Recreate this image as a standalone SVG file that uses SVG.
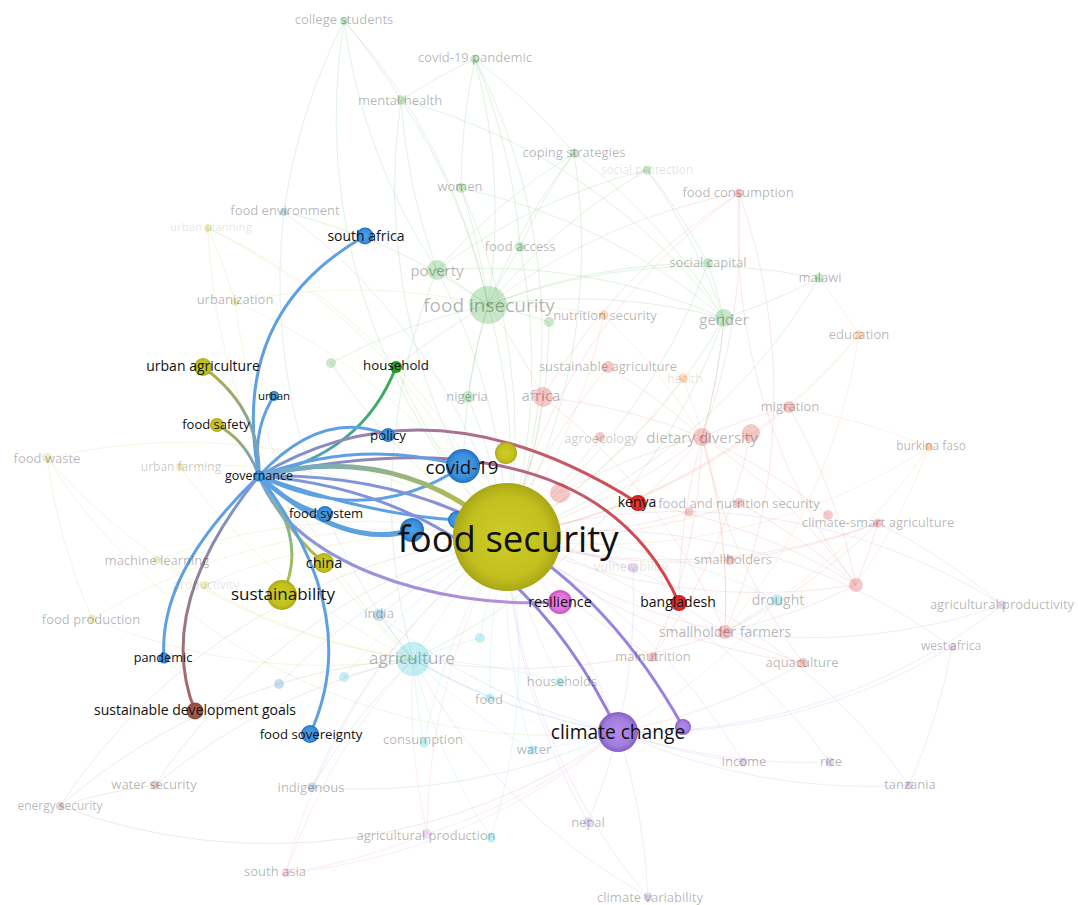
<svg xmlns="http://www.w3.org/2000/svg" width="1078" height="905" viewBox="0 0 1078 905">
<style>
.bl{fill:none;stroke-width:1;stroke-opacity:.2}
.lg{stroke:#6cc06c}.lr{stroke:#ec8a8a}.lo{stroke:#f5b870}.ly{stroke:#cccc60}.lb{stroke:#80b0e0}.lc{stroke:#80d8e4}.lbr{stroke:#c09080}.lp{stroke:#eea0d0}.lpu{stroke:#b8a0e4}
.hl{fill:none;stroke-width:3;stroke-linecap:round}
.hb{stroke:#5ea0e2}
.cg{fill:#2ca02c;fill-opacity:.25}.cr{fill:#d62728;fill-opacity:.25}.co{fill:#ff7f0e;fill-opacity:.3}.cy{fill:#bcbd22;fill-opacity:.25}.cb{fill:#1f77b4;fill-opacity:.25}.cc{fill:#17becf;fill-opacity:.25}.cbr{fill:#8c564b;fill-opacity:.25}.cp{fill:#e377c2;fill-opacity:.25}.cpu{fill:#9467bd;fill-opacity:.25}
.ft{font-family:"Open Sans","Liberation Sans",sans-serif;fill:#000;fill-opacity:.3;text-anchor:middle}
.vf{fill-opacity:.13}
.mf{fill-opacity:.22}
.ht{font-family:"Open Sans","Liberation Sans",sans-serif;fill:#111;text-anchor:middle}
</style>
<defs>
<radialGradient id="ny"><stop offset="0" stop-color="#cdcc28"/><stop offset=".75" stop-color="#c2c01e"/><stop offset="1" stop-color="#a9a616"/></radialGradient>
<radialGradient id="nb"><stop offset="0" stop-color="#4ba2ee"/><stop offset=".7" stop-color="#3a8fdc"/><stop offset="1" stop-color="#2570bf"/></radialGradient>
<radialGradient id="nr"><stop offset="0" stop-color="#ee3a32"/><stop offset=".7" stop-color="#de2a26"/><stop offset="1" stop-color="#b81c1c"/></radialGradient>
<radialGradient id="ng"><stop offset="0" stop-color="#3fb83f"/><stop offset="1" stop-color="#218a21"/></radialGradient>
<radialGradient id="npu"><stop offset="0" stop-color="#b48ced"/><stop offset=".7" stop-color="#a17ddc"/><stop offset="1" stop-color="#8660c4"/></radialGradient>
<radialGradient id="npk"><stop offset="0" stop-color="#ee88e6"/><stop offset=".7" stop-color="#e070d8"/><stop offset="1" stop-color="#c452c0"/></radialGradient>
<radialGradient id="nbr"><stop offset="0" stop-color="#b86a5a"/><stop offset="1" stop-color="#8a4a3e"/></radialGradient>
<linearGradient id="gUA" gradientUnits="userSpaceOnUse" x1="259" y1="476" x2="203" y2="367"><stop offset="0" stop-color="#6a9fd8"/><stop offset="1" stop-color="#b0b040"/></linearGradient>
<linearGradient id="gFSa" gradientUnits="userSpaceOnUse" x1="259" y1="476" x2="217" y2="425"><stop offset="0" stop-color="#6a9fd8"/><stop offset="1" stop-color="#b0b040"/></linearGradient>
<linearGradient id="gHH" gradientUnits="userSpaceOnUse" x1="259" y1="476" x2="396" y2="367"><stop offset="0" stop-color="#5ea0e2"/><stop offset="1" stop-color="#3aac48"/></linearGradient>
<linearGradient id="gKE" gradientUnits="userSpaceOnUse" x1="259" y1="476" x2="638" y2="503"><stop offset="0" stop-color="#7a9ad8"/><stop offset="1" stop-color="#d84848"/></linearGradient>
<linearGradient id="gBD" gradientUnits="userSpaceOnUse" x1="259" y1="476" x2="679" y2="603"><stop offset="0" stop-color="#7a9ad8"/><stop offset="1" stop-color="#dc4040"/></linearGradient>
<linearGradient id="gFS" gradientUnits="userSpaceOnUse" x1="259" y1="476" x2="507" y2="537"><stop offset="0" stop-color="#6aa6dc"/><stop offset="1" stop-color="#c0c030"/></linearGradient>
<linearGradient id="gCH" gradientUnits="userSpaceOnUse" x1="259" y1="476" x2="324" y2="563"><stop offset="0" stop-color="#6aa6dc"/><stop offset="1" stop-color="#b8bc3a"/></linearGradient>
<linearGradient id="gSU" gradientUnits="userSpaceOnUse" x1="259" y1="476" x2="282" y2="595"><stop offset="0" stop-color="#6aa6dc"/><stop offset="1" stop-color="#b0c040"/></linearGradient>
<linearGradient id="gSDG" gradientUnits="userSpaceOnUse" x1="259" y1="476" x2="195" y2="711"><stop offset="0" stop-color="#7a9ad8"/><stop offset="1" stop-color="#a8645a"/></linearGradient>
<linearGradient id="gRE" gradientUnits="userSpaceOnUse" x1="259" y1="476" x2="560" y2="602"><stop offset="0" stop-color="#7a9ad8"/><stop offset="1" stop-color="#c488dc"/></linearGradient>
<linearGradient id="gCC" gradientUnits="userSpaceOnUse" x1="259" y1="476" x2="618" y2="732"><stop offset="0" stop-color="#7a9ad8"/><stop offset="1" stop-color="#9a7cdc"/></linearGradient>
<linearGradient id="gPU" gradientUnits="userSpaceOnUse" x1="259" y1="476" x2="683" y2="727"><stop offset="0" stop-color="#7a9ad8"/><stop offset="1" stop-color="#a07ee0"/></linearGradient>
</defs>
<rect width="1078" height="905" fill="#fff"/>

<g id="connectors">
<g id="background-links" class="bl">
<g class="lg">
<path d="M344 21A600 600 0 0 1 488 305"/><path d="M344 21A600 600 0 0 1 401 100"/><path d="M344 21A600 600 0 0 0 437 270"/><path d="M344 21A600 600 0 0 0 507 537"/><path d="M344 21A600 600 0 0 0 284 212"/>
<path d="M475 59A600 600 0 0 1 488 305"/><path d="M475 59A600 600 0 0 0 401 100"/><path d="M475 59A600 600 0 0 0 461 188"/><path d="M475 59A600 600 0 0 1 574 153"/><path d="M475 59A600 600 0 0 1 520 247"/><path d="M475 59A600 600 0 0 1 507 537"/>
<path d="M401 100A600 600 0 0 1 488 305"/><path d="M401 100A600 600 0 0 0 437 270"/><path d="M401 100A600 600 0 0 0 463 466"/><path d="M401 100A600 600 0 0 1 724 318"/>
<path d="M574 153A600 600 0 0 0 488 305"/><path d="M574 153A600 600 0 0 0 520 247"/><path d="M574 153A600 600 0 0 1 724 318"/><path d="M574 153A600 600 0 0 0 437 270"/><path d="M574 153A600 600 0 0 1 507 537"/>
<path d="M647 170A600 600 0 0 0 488 305"/><path d="M647 170A600 600 0 0 1 724 318"/><path d="M647 170A600 600 0 0 1 708 263"/><path d="M647 170A600 600 0 0 0 437 270"/>
<path d="M461 188A600 600 0 0 1 488 305"/><path d="M461 188A600 600 0 0 1 724 318"/><path d="M461 188A600 600 0 0 1 507 537"/>
<path d="M520 247A600 600 0 0 0 488 305"/><path d="M520 247A600 600 0 0 1 507 537"/><path d="M437 270A600 600 0 0 1 488 305"/><path d="M437 270A600 600 0 0 1 507 537"/><path d="M437 270A600 600 0 0 1 724 318"/>
<path d="M488 305A600 600 0 0 1 507 537"/><path d="M488 305A600 600 0 0 1 724 318"/><path d="M488 305A600 600 0 0 1 819 278"/><path d="M488 305A600 600 0 0 1 708 263"/><path d="M488 305A600 600 0 0 0 468 397"/><path d="M488 305A600 600 0 0 0 331 363"/><path d="M488 305A600 600 0 0 0 396 367"/><path d="M488 305A600 600 0 0 1 549 322"/><path d="M488 305A600 600 0 0 0 463 466"/><path d="M488 305A600 600 0 0 0 284 212"/>
<path d="M708 263A600 600 0 0 1 724 318"/><path d="M708 263A600 600 0 0 1 507 537"/><path d="M819 278A600 600 0 0 1 724 318"/><path d="M819 278A600 600 0 0 1 507 537"/><path d="M724 318A600 600 0 0 1 507 537"/><path d="M724 318A600 600 0 0 1 702 437"/>
<path d="M468 397A600 600 0 0 1 507 537"/><path d="M331 363A600 600 0 0 0 507 537"/><path d="M549 322A600 600 0 0 1 507 537"/><path d="M396 367A600 600 0 0 0 507 537"/><path d="M724 318A600 600 0 0 1 413 659"/><path d="M437 270A600 600 0 0 0 413 659"/>
</g>
<g class="lr">
<path d="M739 193A600 600 0 0 0 488 305"/><path d="M739 193A600 600 0 0 1 702 437"/><path d="M739 193A600 600 0 0 1 725 632"/><path d="M739 193A600 600 0 0 0 507 537"/><path d="M739 193A600 600 0 0 0 543 397"/>
<path d="M608 367A600 600 0 0 0 507 537"/><path d="M608 367A600 600 0 0 1 702 437"/><path d="M543 397A600 600 0 0 1 507 537"/><path d="M543 397A600 600 0 0 1 702 437"/><path d="M543 397A600 600 0 0 1 725 632"/>
<path d="M789 407A600 600 0 0 1 507 537"/><path d="M789 407A600 600 0 0 0 702 437"/><path d="M789 407A600 600 0 0 1 856 585"/><path d="M600 437A600 600 0 0 1 507 537"/><path d="M702 437A600 600 0 0 1 507 537"/><path d="M702 437A600 600 0 0 1 725 632"/><path d="M702 437A600 600 0 0 1 856 585"/>
<path d="M751 433A600 600 0 0 1 507 537"/><path d="M751 433A600 600 0 0 1 653 657"/><path d="M560 493A600 600 0 0 1 702 437"/><path d="M739 503A600 600 0 0 1 507 537"/><path d="M739 503A600 600 0 0 1 856 585"/><path d="M689 512A600 600 0 0 1 507 537"/>
<path d="M878 523A600 600 0 0 1 507 537"/><path d="M878 523A600 600 0 0 1 725 632"/><path d="M828 515A600 600 0 0 0 702 437"/><path d="M730 560A600 600 0 0 1 507 537"/><path d="M730 560A600 600 0 0 0 878 523"/>
<path d="M856 585A600 600 0 0 1 507 537"/><path d="M856 585A600 600 0 0 1 725 632"/><path d="M856 585A600 600 0 0 1 739 193"/><path d="M856 585A600 600 0 0 0 878 523"/>
<path d="M725 632A600 600 0 0 1 507 537"/><path d="M725 632A600 600 0 0 0 803 663"/><path d="M653 657A600 600 0 0 1 507 537"/><path d="M653 657A600 600 0 0 0 702 437"/><path d="M803 663A600 600 0 0 1 507 537"/><path d="M803 663A600 600 0 0 1 702 437"/>
<path d="M638 503A600 600 0 0 0 702 437"/><path d="M679 603A600 600 0 0 0 725 632"/><path d="M679 603A600 600 0 0 1 702 437"/><path d="M638 503A600 600 0 0 1 856 585"/><path d="M543 397A600 600 0 0 0 488 305"/><path d="M702 437A600 600 0 0 0 724 318"/><path d="M803 663A600 600 0 0 1 618 732"/><path d="M725 632A600 600 0 0 1 413 659"/>
</g>
<g class="lo">
<path d="M604 315A600 600 0 0 1 507 537"/><path d="M604 315A600 600 0 0 0 488 305"/><path d="M604 315A600 600 0 0 1 702 437"/><path d="M683 378A600 600 0 0 1 507 537"/><path d="M683 378A600 600 0 0 1 725 632"/>
<path d="M859 335A600 600 0 0 1 507 537"/><path d="M859 335A600 600 0 0 0 819 278"/><path d="M859 335A600 600 0 0 1 789 407"/><path d="M859 335A600 600 0 0 1 725 632"/>
<path d="M929 447A600 600 0 0 1 507 537"/><path d="M929 447A600 600 0 0 0 789 407"/><path d="M929 447A600 600 0 0 1 856 585"/><path d="M929 447A600 600 0 0 1 725 632"/>
</g>
<g class="ly">
<path d="M208 228A600 600 0 0 1 507 537"/><path d="M208 228A600 600 0 0 1 235 302"/><path d="M208 228A600 600 0 0 0 413 659"/><path d="M235 302A600 600 0 0 1 507 537"/><path d="M235 302A600 600 0 0 1 488 305"/><path d="M235 302A600 600 0 0 0 413 659"/>
<path d="M47 458A600 600 0 0 1 507 537"/><path d="M47 458A600 600 0 0 0 92 619"/><path d="M47 458A600 600 0 0 0 413 659"/><path d="M180 467A600 600 0 0 1 507 537"/><path d="M180 467A600 600 0 0 0 413 659"/>
<path d="M157 560A600 600 0 0 1 507 537"/><path d="M157 560A600 600 0 0 0 413 659"/><path d="M205 585A600 600 0 0 1 507 537"/><path d="M92 619A600 600 0 0 1 507 537"/><path d="M92 619A600 600 0 0 0 413 659"/><path d="M47 458A600 600 0 0 0 618 732"/><path d="M208 228A600 600 0 0 1 463 466"/>
</g>
<g class="lb">
<path d="M284 212A600 600 0 0 1 507 537"/><path d="M284 212A600 600 0 0 0 413 659"/><path d="M379 615A600 600 0 0 1 507 537"/><path d="M379 615A600 600 0 0 0 413 659"/><path d="M379 615A600 600 0 0 0 618 732"/>
<path d="M279 684A600 600 0 0 1 507 537"/><path d="M312 787A600 600 0 0 1 507 537"/><path d="M312 787A600 600 0 0 1 413 659"/><path d="M312 787A600 600 0 0 0 618 732"/>
</g>
<g class="lc">
<path d="M413 659A600 600 0 0 1 507 537"/><path d="M413 659A600 600 0 0 0 618 732"/><path d="M344 677A600 600 0 0 1 413 659"/><path d="M344 677A600 600 0 0 1 507 537"/><path d="M480 638A600 600 0 0 1 507 537"/><path d="M480 638A600 600 0 0 0 413 659"/>
<path d="M560 682A600 600 0 0 1 507 537"/><path d="M560 682A600 600 0 0 0 413 659"/><path d="M490 698A600 600 0 0 1 507 537"/><path d="M490 698A600 600 0 0 1 413 659"/><path d="M424 743A600 600 0 0 1 507 537"/><path d="M424 743A600 600 0 0 1 413 659"/>
<path d="M532 750A600 600 0 0 1 507 537"/><path d="M532 750A600 600 0 0 0 618 732"/><path d="M532 750A600 600 0 0 1 413 659"/><path d="M777 600A600 600 0 0 0 507 537"/><path d="M777 600A600 600 0 0 1 618 732"/><path d="M777 600A600 600 0 0 0 725 632"/>
<path d="M491 838A600 600 0 0 1 413 659"/><path d="M491 838A600 600 0 0 0 507 537"/>
</g>
<g class="lbr">
<path d="M155 785A600 600 0 0 1 507 537"/><path d="M155 785A600 600 0 0 1 413 659"/><path d="M60 806A600 600 0 0 1 507 537"/><path d="M60 806A600 600 0 0 1 155 785"/><path d="M60 806A600 600 0 0 1 413 659"/><path d="M60 806A600 600 0 0 0 618 732"/>
</g>
<g class="lp">
<path d="M427 834A600 600 0 0 1 507 537"/><path d="M427 834A600 600 0 0 1 413 659"/><path d="M427 834A600 600 0 0 0 618 732"/><path d="M286 873A600 600 0 0 1 507 537"/><path d="M286 873A600 600 0 0 1 413 659"/><path d="M286 873A600 600 0 0 0 427 834"/><path d="M286 873A600 600 0 0 0 618 732"/>
</g>
<g class="lpu">
<path d="M633 568A600 600 0 0 0 507 537"/><path d="M633 568A600 600 0 0 1 618 732"/><path d="M1002 605A600 600 0 0 0 507 537"/><path d="M1002 605A600 600 0 0 1 618 732"/><path d="M1002 605A600 600 0 0 1 725 632"/>
<path d="M952 647A600 600 0 0 0 507 537"/><path d="M952 647A600 600 0 0 1 618 732"/><path d="M743 762A600 600 0 0 1 618 732"/><path d="M743 762A600 600 0 0 0 507 537"/><path d="M830 762A600 600 0 0 1 618 732"/><path d="M830 762A600 600 0 0 0 507 537"/>
<path d="M909 785A600 600 0 0 1 618 732"/><path d="M909 785A600 600 0 0 0 507 537"/><path d="M909 785A600 600 0 0 0 952 647"/><path d="M588 822A600 600 0 0 0 618 732"/><path d="M588 822A600 600 0 0 1 507 537"/>
<path d="M648 897A600 600 0 0 0 618 732"/><path d="M648 897A600 600 0 0 1 507 537"/><path d="M648 897A600 600 0 0 1 413 659"/><path d="M618 732A600 600 0 0 0 507 537"/><path d="M618 732A600 600 0 0 1 413 659"/><path d="M1002 605A600 600 0 0 0 878 523"/>
</g>
</g>
<g id="governance-links" class="hl">
<path class="hb" d="M259 476Q228 314 365 236"/>
<path class="hb" d="M259 476Q252 430 274 396"/>
<path stroke="url(#gUA)" d="M259 476Q261 409 203 367"/>
<path stroke="url(#gFSa)" d="M259 476Q246 440 217 425"/>
<path stroke="url(#gHH)" d="M259 476Q362 455 396 367"/>
<path class="hb" d="M259 476Q322 408 388 435"/>
<path stroke="url(#gKE)" d="M259 476Q431 372 638 503"/>
<path stroke="url(#gBD)" d="M259 476C380 450 600 425 679 603"/>
<path class="hb" d="M259 476Q360 438 463 466"/>
<path class="hb" d="M259 476Q369 529 463 466"/>
<path class="hb" d="M259 476Q370 515 457 520"/>
<path class="hb" d="M259 476Q290 505 325 514"/>
<path stroke="url(#gPU)" d="M259 476Q540 470 683 727"/>
<path stroke="url(#gCC)" d="M259 476Q505 495 618 732"/>
<path stroke="url(#gRE)" d="M259 476C290 560 430 610 560 602"/>
<path stroke="url(#gCH)" d="M259 476Q285 530 324 563"/>
<path stroke="url(#gSU)" d="M259 476Q310 540 282 595"/>
<path class="hb" d="M259 476Q158 572 164 658"/>
<path stroke="url(#gSDG)" d="M259 476Q153 606 195 711"/>
<path class="hb" d="M259 476Q365 614 310 734"/>
<path stroke="url(#gFS)" stroke-width="5" d="M259 476Q400 440 507 537"/>
<path class="hb" stroke-width="5" d="M259 476Q344 551 412 530"/>
</g>
</g>

<g id="faint-nodes" font-size="13">
<g id="n-college-students"><circle class="cg" cx="344" cy="21" r="4"/><text class="ft" x="344" y="24">college students</text></g>
<g id="n-covid-19-pandemic"><circle class="cg" cx="475" cy="59" r="4.5"/><text class="ft" x="475" y="62">covid-19 pandemic</text></g>
<g id="n-mental-health"><circle class="cg" cx="401" cy="100" r="4.5"/><text class="ft" x="400" y="105">mental health</text></g>
<g id="n-coping-strategies"><circle class="cg" cx="574" cy="153" r="4.5"/><text class="ft" x="574" y="157">coping strategies</text></g>
<g id="n-social-protection"><circle class="cg" cx="647" cy="170" r="4.5"/><text class="ft vf" x="647" y="174" font-size="12">social protection</text></g>
<g id="n-women"><circle class="cg" cx="461" cy="188" r="5"/><text class="ft" x="460" y="191">women</text></g>
<g id="n-food-environment"><circle class="cb" cx="284" cy="212" r="4"/><text class="ft" x="285" y="215">food environment</text></g>
<g id="n-urban-planning"><circle class="cy" cx="208" cy="228" r="4"/><text class="ft vf" x="211" y="231" font-size="11.5">urban planning</text></g>
<g id="n-food-access"><circle class="cg" cx="520" cy="247" r="5"/><text class="ft" x="520" y="251">food access</text></g>
<g id="n-poverty"><circle class="cg" cx="437" cy="270" r="10"/><text class="ft" x="437" y="276" font-size="15">poverty</text></g>
<g id="n-food-insecurity"><circle class="cg" cx="488" cy="305" r="19"/><text class="ft" x="489" y="312" font-size="19">food insecurity</text></g>
<g id="n-urbanization"><circle class="cy" cx="235" cy="302" r="4"/><text class="ft" x="235" y="304">urbanization</text></g>
<g id="n-social-capital"><circle class="cg" cx="708" cy="263" r="5"/><text class="ft" x="708" y="267">social capital</text></g>
<g id="n-malawi"><circle class="cg" cx="819" cy="278" r="4.5"/><text class="ft" x="820" y="282">malawi</text></g>
<g id="n-gender"><circle class="cg" cx="724" cy="318" r="9"/><text class="ft" x="724" y="325" font-size="15">gender</text></g>
<g id="n-green-a"><circle class="cg" cx="549" cy="322" r="5"/></g>
<g id="n-green-b"><circle class="cg" cx="331" cy="363" r="5"/></g>
<g id="n-nutrition-security"><circle class="co" cx="604" cy="315" r="4.5"/><text class="ft" x="605" y="320">nutrition security</text></g>
<g id="n-food-consumption"><circle class="cr" cx="739" cy="193" r="4.5"/><text class="ft" x="738" y="197">food consumption</text></g>
<g id="n-education"><circle class="co" cx="859" cy="335" r="4.5"/><text class="ft" x="859" y="339">education</text></g>
<g id="n-sustainable-agriculture"><circle class="cr" cx="608" cy="367" r="6"/><text class="ft" x="608" y="371">sustainable agriculture</text></g>
<g id="n-health"><circle class="co" cx="683" cy="378" r="4.5"/><text class="ft vf" x="685" y="383" font-size="12">health</text></g>
<g id="n-nigeria"><circle class="cg" cx="468" cy="397" r="6"/><text class="ft" x="467" y="401">nigeria</text></g>
<g id="n-africa"><circle class="cr" cx="543" cy="397" r="10"/><text class="ft" x="541" y="401" font-size="15">africa</text></g>
<g id="n-migration"><circle class="cr" cx="789" cy="407" r="6"/><text class="ft" x="790" y="411">migration</text></g>
<g id="n-agroecology"><circle class="cr" cx="600" cy="437" r="5"/><text class="ft mf" x="601" y="443">agroecology</text></g>
<g id="n-dietary-diversity"><circle class="cr" cx="702" cy="437" r="9"/><circle class="cr" cx="751" cy="433" r="9"/><text class="ft" x="702" y="443" font-size="15">dietary diversity</text></g>
<g id="n-burkina-faso"><circle class="co" cx="929" cy="447" r="4"/><text class="ft" x="931" y="450" font-size="12">burkina faso</text></g>
<g id="n-pink-a"><circle class="cr" cx="560" cy="493" r="10"/></g>
<g id="n-food-and-nutrition-security"><circle class="cr" cx="739" cy="503" r="5"/><circle class="cr" cx="689" cy="512" r="4.5"/><text class="ft" x="739" y="508">food and nutrition security</text></g>
<g id="n-climate-smart-agriculture"><circle class="cr" cx="878" cy="523" r="4.5"/><circle class="cr" cx="828" cy="515" r="5"/><text class="ft" x="878" y="527">climate-smart agriculture</text></g>
<g id="n-smallholders"><circle class="cr" cx="730" cy="560" r="5"/><text class="ft" x="733" y="564">smallholders</text></g>
<g id="n-pink-b"><circle class="cr" cx="856" cy="585" r="7"/></g>
<g id="n-smallholder-farmers"><circle class="cr" cx="725" cy="632" r="7"/><text class="ft" x="725" y="637" font-size="14">smallholder farmers</text></g>
<g id="n-malnutrition"><circle class="cr" cx="653" cy="657" r="5"/><text class="ft" x="653" y="661">malnutrition</text></g>
<g id="n-aquaculture"><circle class="cr" cx="803" cy="663" r="5"/><text class="ft" x="802" y="667">aquaculture</text></g>
<g id="n-food-waste"><circle class="cy" cx="47" cy="458" r="5"/><text class="ft" x="47" y="463">food waste</text></g>
<g id="n-urban-farming"><circle class="cy" cx="180" cy="467" r="4"/><text class="ft mf" x="181" y="471" font-size="12">urban farming</text></g>
<g id="n-machine-learning"><circle class="cy" cx="157" cy="560" r="4"/><text class="ft" x="157" y="565">machine learning</text></g>
<g id="n-productivity"><circle class="cy" cx="205" cy="585" r="4"/><text class="ft vf" x="206" y="589" font-size="12">productivity</text></g>
<g id="n-food-production"><circle class="cy" cx="92" cy="619" r="4.5"/><text class="ft" x="91" y="624">food production</text></g>
<g id="n-vulnerability"><circle class="cpu" cx="633" cy="568" r="5"/><text class="ft vf" x="631" y="571">vulnerability</text></g>
<g id="n-drought"><circle class="cc" cx="777" cy="600" r="6"/><text class="ft" x="778" y="605" font-size="14">drought</text></g>
<g id="n-agricultural-productivity"><circle class="cpu" cx="1002" cy="605" r="4.5"/><text class="ft" x="1002" y="609">agricultural productivity</text></g>
<g id="n-west-africa"><circle class="cpu" cx="952" cy="647" r="4"/><text class="ft" x="951" y="650" font-size="12">west africa</text></g>
<g id="n-india"><circle class="cb" cx="379" cy="615" r="6"/><text class="ft" x="379" y="618">india</text></g>
<g id="n-agriculture"><circle class="cc" cx="413" cy="659" r="17"/><text class="ft" x="412" y="664" font-size="17">agriculture</text></g>
<g id="n-blue-faint"><circle class="cb" cx="279" cy="684" r="5"/></g>
<g id="n-cyan-a"><circle class="cc" cx="344" cy="677" r="5"/></g>
<g id="n-cyan-b"><circle class="cc" cx="480" cy="638" r="5"/></g>
<g id="n-households"><circle class="cc" cx="560" cy="682" r="4.5"/><text class="ft" x="562" y="686">households</text></g>
<g id="n-food"><circle class="cc" cx="490" cy="698" r="4.5"/><text class="ft" x="489" y="704">food</text></g>
<g id="n-consumption"><circle class="cc" cx="424" cy="743" r="4.5"/><text class="ft" x="423" y="744">consumption</text></g>
<g id="n-water"><circle class="cc" cx="532" cy="750" r="4.5"/><text class="ft" x="534" y="754">water</text></g>
<g id="n-income"><circle class="cpu" cx="743" cy="762" r="4.5"/><text class="ft" x="744" y="766">income</text></g>
<g id="n-rice"><circle class="cpu" cx="830" cy="762" r="4.5"/><text class="ft" x="831" y="766">rice</text></g>
<g id="n-water-security"><circle class="cbr" cx="155" cy="785" r="4.5"/><text class="ft" x="154" y="789">water security</text></g>
<g id="n-indigenous"><circle class="cb" cx="312" cy="787" r="4.5"/><text class="ft" x="311" y="792">indigenous</text></g>
<g id="n-tanzania"><circle class="cpu" cx="909" cy="785" r="4"/><text class="ft" x="910" y="789">tanzania</text></g>
<g id="n-energy-security"><circle class="cbr" cx="60" cy="806" r="4"/><text class="ft" x="60" y="810" font-size="12">energy security</text></g>
<g id="n-nepal"><circle class="cpu" cx="588" cy="822" r="4.5"/><text class="ft" x="588" y="827">nepal</text></g>
<g id="n-agricultural-production"><circle class="cp" cx="427" cy="834" r="5"/><circle class="cc" cx="491" cy="838" r="4.5"/><text class="ft" x="426" y="840">agricultural production</text></g>
<g id="n-south-asia"><circle class="cp" cx="286" cy="873" r="4.5"/><text class="ft" x="275" y="876">south asia</text></g>
<g id="n-climate-variability"><circle class="cpu" cx="648" cy="897" r="4.5"/><text class="ft" x="650" y="902">climate variability</text></g>
</g>

<g id="highlighted-nodes" font-size="13">
<g id="n-governance"><circle cx="259" cy="476" r="5.5" fill="url(#nb)"/><text class="ht" x="259" y="480" font-size="12.5">governance</text></g>
<g id="n-urban"><circle cx="274" cy="396" r="5" fill="url(#nb)"/><text class="ht" x="274" y="400" font-size="11.5">urban</text></g>
<g id="n-south-africa"><circle cx="365" cy="236" r="8.5" fill="url(#nb)"/><text class="ht" x="366" y="241" font-size="14">south africa</text></g>
<g id="n-urban-agriculture"><circle cx="203" cy="367" r="9" fill="url(#ny)"/><text class="ht" x="203" y="371" font-size="14">urban agriculture</text></g>
<g id="n-food-safety"><circle cx="217" cy="425" r="7" fill="url(#ny)"/><text class="ht" x="216" y="429" font-size="13">food safety</text></g>
<g id="n-household"><circle cx="396" cy="367" r="6" fill="url(#ng)"/><text class="ht" x="396" y="370" font-size="13.3">household</text></g>
<g id="n-policy"><circle cx="388" cy="435" r="7" fill="url(#nb)"/><text class="ht" x="388" y="440" font-size="13.3">policy</text></g>
<g id="n-food-system"><circle cx="325" cy="514" r="8" fill="url(#nb)"/><text class="ht" x="326" y="518" font-size="13">food system</text></g>
<g id="n-china"><circle cx="324" cy="563" r="10" fill="url(#ny)"/><text class="ht" x="324" y="568" font-size="14.5">china</text></g>
<g id="n-sustainability"><circle cx="282" cy="595" r="15" fill="url(#ny)"/><text class="ht" x="283" y="600" font-size="17">sustainability</text></g>
<g id="n-pandemic"><circle cx="164" cy="658" r="5.5" fill="url(#nb)"/><text class="ht" x="163" y="662" font-size="12.7">pandemic</text></g>
<g id="n-sustainable-development-goals"><circle cx="195" cy="711" r="8.5" fill="url(#nbr)"/><text class="ht" x="195" y="715" font-size="14">sustainable development goals</text></g>
<g id="n-food-sovereignty"><circle cx="310" cy="734" r="9" fill="url(#nb)"/><text class="ht" x="311" y="739" font-size="13.2">food sovereignty</text></g>
<g id="n-blue-a"><circle cx="412" cy="530" r="12" fill="url(#nb)"/></g>
<g id="n-blue-b"><circle cx="457" cy="520" r="9" fill="url(#nb)"/></g>
<g id="n-yellow-a"><circle cx="506" cy="453" r="11" fill="url(#ny)"/></g>
<g id="n-covid-19"><circle cx="463" cy="466" r="17" fill="url(#nb)"/><text class="ht" x="462" y="474" font-size="18.7">covid-19</text></g>
<g id="n-kenya"><circle cx="638" cy="503" r="8" fill="url(#nr)"/><text class="ht" x="637" y="507" font-size="14">kenya</text></g>
<g id="n-bangladesh"><circle cx="679" cy="603" r="8" fill="url(#nr)"/><text class="ht" x="678" y="607" font-size="14">bangladesh</text></g>
<g id="n-resilience"><circle cx="560" cy="602" r="12" fill="url(#npk)"/><text class="ht" x="560" y="607" font-size="14.4">resilience</text></g>
<g id="n-purple-a"><circle cx="683" cy="727" r="8" fill="url(#npu)"/></g>
<g id="n-climate-change"><circle cx="618" cy="732" r="20" fill="url(#npu)"/><text class="ht" x="618" y="739" font-size="19.2">climate change</text></g>
<g id="n-food-security"><circle cx="507" cy="537" r="54" fill="url(#ny)"/><text class="ht" x="508" y="552" font-size="36.5">food security</text></g>
</g>
</svg>
